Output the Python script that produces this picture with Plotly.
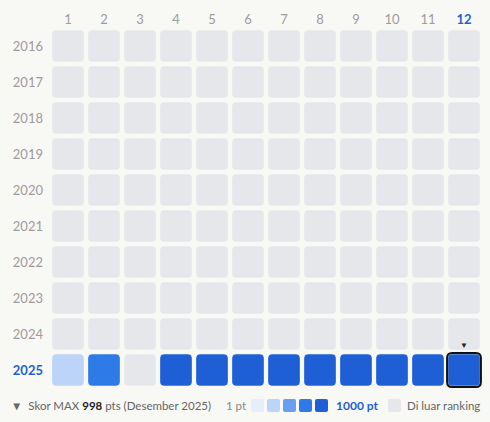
import plotly.graph_objects as go

months = list(range(1, 13))
years = list(range(2016, 2026))
# scores per year (None = outside ranking)
scores = {y: [None] * 12 for y in years}
scores[2025] = [250, 700, None, 998, 998, 998, 998, 998, 998, 998, 998, 998]
max_score = 998
max_label = "Desember 2025"
legend_colors = ["#e6eefc", "#bcd4f8", "#6a9ef0", "#2e7be8", "#1f5fd6"]
empty_color = "#e6e7ea"

L, W, T, H = 50, 432, 28, 360


def px(x):
    return (x - L) / W


def py(y):
    return (T + H - y) / H


def color_for(v):
    if v is None:
        return empty_color
    idx = min(int(v / 1000 * 5), 4)
    return legend_colors[idx]


def rounded(x0, y0, x1, y1, rx, ry):
    return (f"M{x0+rx},{y0} L{x1-rx},{y0} Q{x1},{y0} {x1},{y0+ry} "
            f"L{x1},{y1-ry} Q{x1},{y1} {x1-rx},{y1} L{x0+rx},{y1} "
            f"Q{x0},{y1} {x0},{y1-ry} L{x0},{y0+ry} Q{x0},{y0} {x0+rx},{y0} Z")


fig = go.Figure()
shapes = []
h = 0.44
r = 0.12
for y in years:
    for m, v in zip(months, scores[y]):
        shapes.append(dict(type="path", xref="x", yref="y",
                           path=rounded(m - h, y - h, m + h, y + h, r, r),
                           fillcolor=color_for(v), line=dict(width=0), layer="below"))
# highlight max cell
hm, hy = 12, 2025
shapes.append(dict(type="path", xref="x", yref="y",
                   path=rounded(hm - 0.47, hy - 0.47, hm + 0.47, hy + 0.47, 0.14, 0.14),
                   fillcolor="rgba(0,0,0,0)", line=dict(color="#111", width=2)))

fig.add_trace(go.Scatter(
    x=[m for y in years for m in months],
    y=[y for y in years for m in months],
    mode="markers", marker=dict(size=30, opacity=0),
    hovertext=[f"{y}-{m}: {scores[y][m-1]}" for y in years for m in months],
    hoverinfo="text", showlegend=False))

fig.add_annotation(x=hm, y=hy - 0.5, text="▼", showarrow=False, yanchor="bottom",
                   font=dict(size=8, color="#222"))

# bottom legend
ly = py(405)
lf = dict(size=11.5, color="#666")
ann = dict(xref="paper", yref="paper", xanchor="left", yanchor="middle", showarrow=False)
fig.add_annotation(x=px(9), y=ly, font=lf, **ann,
                   text=f"▼  Skor MAX <b style='color:#222'>{max_score}</b> pts ({max_label})")
fig.add_annotation(x=px(224), y=ly, text="1 pt", font=dict(size=11.5, color="#888"), **ann)
for i, c in enumerate(legend_colors):
    x0 = 251 + i * 16
    shapes.append(dict(type="path", xref="paper", yref="paper",
                       path=rounded(px(x0), py(412), px(x0 + 13), py(399), 2 / W, 2 / H),
                       fillcolor=c, line=dict(width=0)))
fig.add_annotation(x=px(334), y=ly, text="<b>1000 pt</b>",
                   font=dict(size=12, color="#1f5fd6"), **ann)
shapes.append(dict(type="path", xref="paper", yref="paper",
                   path=rounded(px(388), py(412), px(401), py(399), 2 / W, 2 / H),
                   fillcolor=empty_color, line=dict(width=0)))
fig.add_annotation(x=px(405), y=ly, text="Di luar ranking", font=lf, **ann)

xt = [f"<b><span style='color:#1f5fd6'>{m}</span></b>" if m == 12 else str(m) for m in months]
yt = [f"<b><span style='color:#1f5fd6'>{y}</span></b>" if y == 2025 else str(y) for y in years]

fig.update_layout(
    width=490, height=422,
    margin=dict(l=L, r=490 - L - W, t=T, b=422 - T - H),
    paper_bgcolor="#f8f8f5", plot_bgcolor="#f8f8f5",
    font=dict(family="Lato, Noto Sans, sans-serif", size=13, color="#a09a9c"),
    shapes=shapes,
    xaxis=dict(range=[0.5, 12.5], side="top", tickvals=months, ticktext=xt, automargin=False,
               showgrid=False, zeroline=False, ticks="", fixedrange=True),
    yaxis=dict(range=[2025.5, 2015.5], tickvals=years, ticktext=yt, automargin=False,
               showgrid=False, zeroline=False, ticks="", ticklabelstandoff=6, fixedrange=True),
)

fig.write_html("out.html", config={"displayModeBar": False},
               post_script="document.body.style.margin='0';document.body.style.background='#f8f8f5';")
